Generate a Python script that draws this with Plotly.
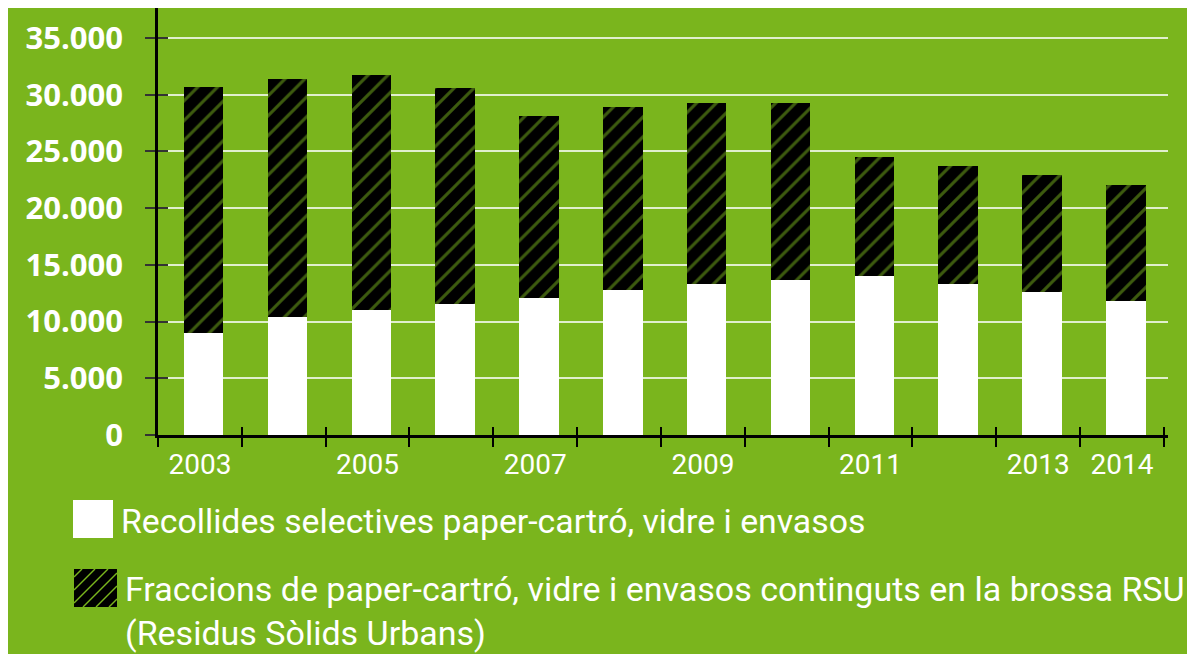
import plotly.graph_objects as go

YEARS = [str(y) for y in range(2003, 2015)]
YEAR_LABELS = ["2003", "", "2005", "", "2007", "", "2009", "", "2011", "", "2013", "2014"]

# tones (t): selective collection vs. fractions still in the RSU bin
SELECTIVE = [9000, 10400, 11000, 11550, 12100, 12800, 13300, 13700, 14000, 13300, 12600, 11800]
TOTAL = [30700, 31400, 31700, 30600, 28100, 28900, 29300, 29300, 24500, 23700, 22900, 22000]
IN_RSU = [t - s for t, s in zip(TOTAL, SELECTIVE)]

Y_TICKS = [0, 5000, 10000, 15000, 20000, 25000, 30000, 35000]
Y_TICK_LABELS = ["0", "5.000", "10.000", "15.000", "20.000", "25.000", "30.000", "35.000"]

LEGEND_1 = "Recollides selectives paper-cartró, vidre i envasos"
LEGEND_2 = "Fraccions de paper-cartró, vidre i envasos continguts en la brossa RSU<br>(Residus Sòlids Urbans)"

GREEN = "#7ab51d"
# the page body adds an 8px margin, so the figure is drawn 8px smaller
OFF = 8
W, H = 1195 - OFF, 654 - OFF
L, R, T, B = 158 - OFF, 27, 0, 219
PW, PH = W - L - R, H - T - B

# bars sit a little right of their tick cells, as in the original
BAR_W = 0.47
BAR_OFFSET = -BAR_W / 2 + 0.045


def px_x(px):
    return (px - OFF - L) / PW


def px_y(py):
    return (H - B - (py - OFF)) / PH


fig = go.Figure()
fig.add_trace(go.Bar(x=YEARS, y=SELECTIVE, width=BAR_W, offset=BAR_OFFSET,
                     marker=dict(color="white", line=dict(width=0)),
                     name=LEGEND_1, hoverinfo="y"))
fig.add_trace(go.Bar(
    x=YEARS, y=IN_RSU, width=BAR_W, offset=BAR_OFFSET,
    marker=dict(color="black", line=dict(width=0),
                pattern=dict(shape="/", fillmode="overlay", bgcolor="black",
                             fgcolor=GREEN, size=14, solidity=0.22)),
    name="RSU", hoverinfo="y",
))
# helper trace so the overlay axes draw their crossing ticks
fig.add_trace(go.Scatter(x=YEARS, y=[None] * len(YEARS), xaxis="x2", yaxis="y2",
                         showlegend=False, hoverinfo="skip"))

fig.update_layout(
    width=W, height=H,
    barmode="stack",
    paper_bgcolor=GREEN, plot_bgcolor=GREEN,
    margin=dict(l=L, r=R, t=T, b=B),
    showlegend=False,
    font=dict(family="Roboto", color="white"),
    xaxis=dict(
        type="category", tickmode="array", tickvals=YEARS, ticktext=YEAR_LABELS,
        range=[-0.5, 11.548],
        tickson="boundaries", ticks="outside", ticklen=9, tickcolor="black", tickwidth=1.5,
        showline=True, linecolor="black", linewidth=2.5,
        tickfont=dict(size=28, color="white", family="Roboto"),
        ticklabelstandoff=3, showgrid=False,
    ),
    yaxis=dict(
        range=[0, 37650], tickmode="array", tickvals=Y_TICKS, ticktext=Y_TICK_LABELS,
        ticks="outside", ticklen=10, tickcolor="#333333", tickwidth=2,
        showline=True, linecolor="black", linewidth=2.5,
        showgrid=True, gridcolor="rgba(235,245,225,0.9)", gridwidth=1.5,
        tickfont=dict(size=31, color="white", family="Open Sans", weight="bold"),
        ticklabelstandoff=16, zeroline=False,
    ),
    xaxis2=dict(
        type="category", overlaying="x", anchor="y", matches="x",
        tickson="boundaries", ticks="inside", ticklen=8, tickcolor="black", tickwidth=1.5,
        showticklabels=False, showgrid=False, showline=False, side="bottom",
    ),
    yaxis2=dict(
        overlaying="y", anchor="x", matches="y", tickmode="array", tickvals=Y_TICKS,
        ticks="inside", ticklen=10, tickcolor="#333333", tickwidth=2,
        showticklabels=False, showgrid=False, showline=False, side="left",
    ),
)

# legend swatches
shapes = [
    dict(type="rect", xref="paper", yref="paper", x0=px_x(73), x1=px_x(113),
         y0=px_y(538), y1=px_y(500), fillcolor="white", line=dict(width=0), layer="above"),
    dict(type="rect", xref="paper", yref="paper", x0=px_x(74), x1=px_x(117),
         y0=px_y(607), y1=px_y(569), fillcolor="black", line=dict(width=0), layer="above"),
]
sx0, sx1, sy0, sy1 = 74, 117, 569, 607
for d in range(-30, 44, 13):
    # "/" stroke starting on the bottom edge at sx0 + d, clipped to the square
    ax, ay = sx0 + d, sy1
    bx, by = ax + (sy1 - sy0), sy0
    if ax < sx0:
        ay -= sx0 - ax
        ax = sx0
    if bx > sx1:
        by += bx - sx1
        bx = sx1
    if ax >= bx:
        continue
    shapes.append(dict(type="line", xref="paper", yref="paper", x0=px_x(ax), y0=px_y(ay),
                       x1=px_x(bx), y1=px_y(by), line=dict(color=GREEN, width=1.4),
                       layer="above"))
fig.update_layout(shapes=shapes)

fig.add_annotation(xref="paper", yref="paper", x=px_x(119), y=px_y(521), xanchor="left",
                   yanchor="middle", text=LEGEND_1, showarrow=False,
                   font=dict(size=33.8, color="white", family="Roboto"))
fig.add_annotation(xref="paper", yref="paper", x=px_x(123), y=px_y(611), xanchor="left",
                   yanchor="middle", text=LEGEND_2, showarrow=False, align="left",
                   font=dict(size=34, color="white", family="Roboto"))

fig.write_html("out.html")
